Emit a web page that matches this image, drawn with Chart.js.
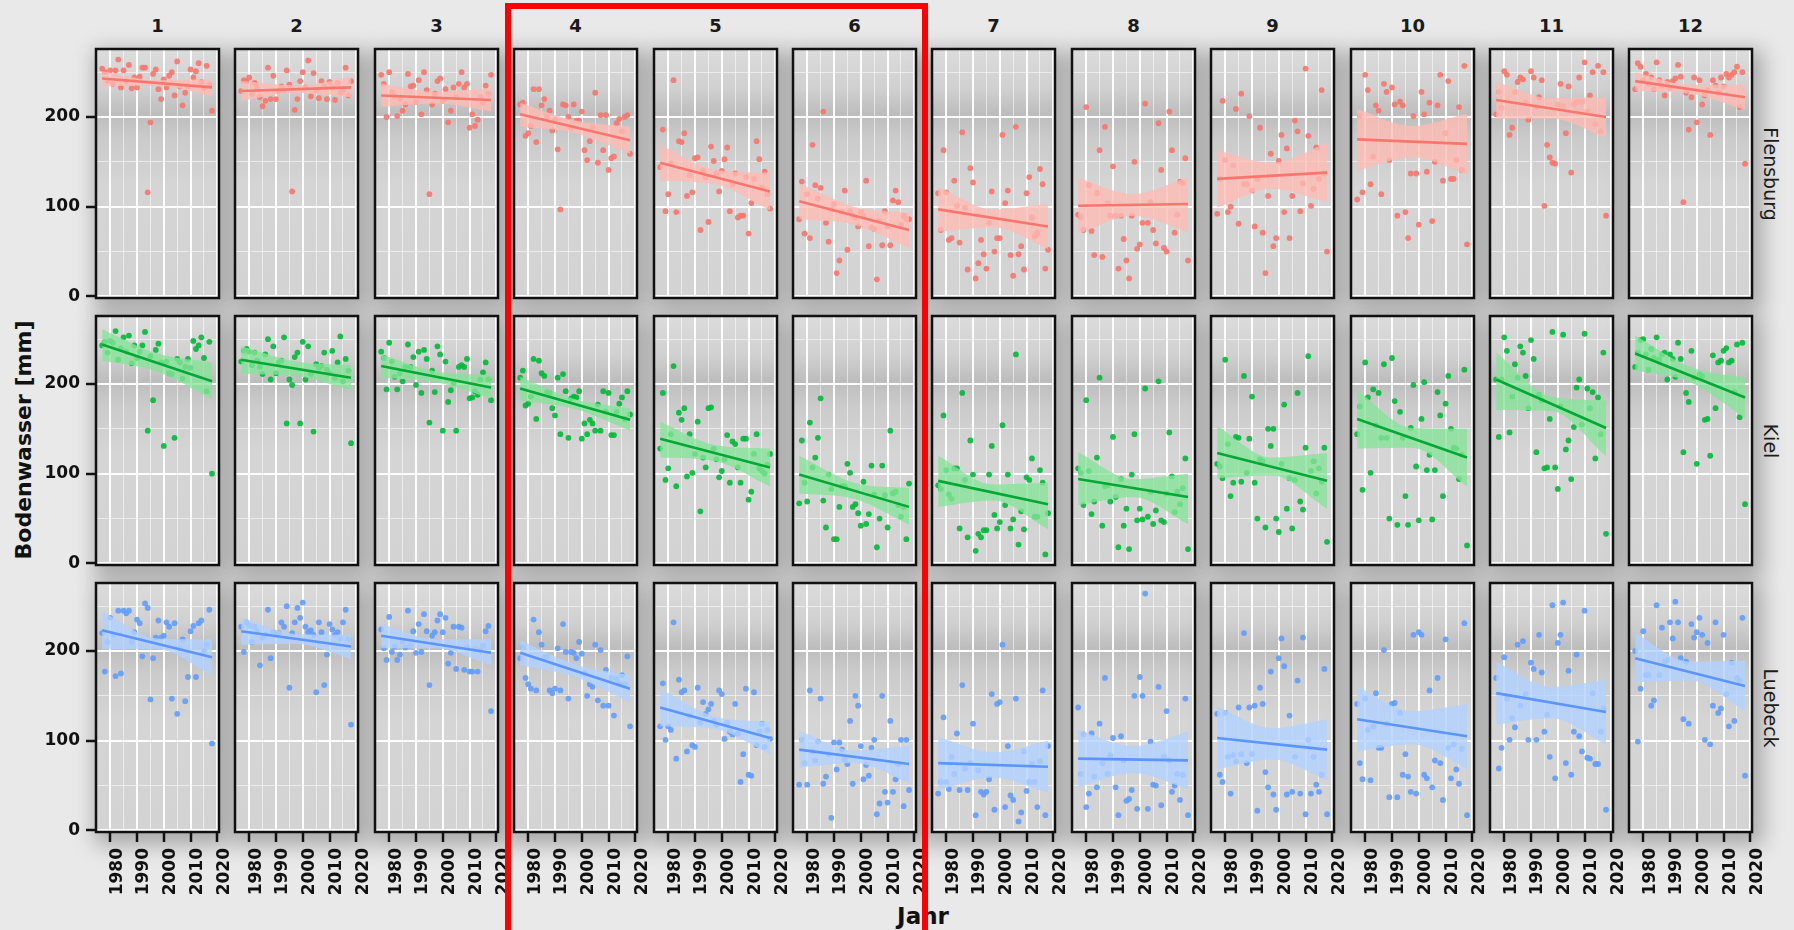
<!DOCTYPE html>
<html>
<head>
<meta charset="utf-8">
<script src="https://cdn.jsdelivr.net/npm/chart.js@4.4.1/dist/chart.umd.min.js"></script>
<style>
  html, body { margin: 0; padding: 0; }
  body {
    width: 1794px; height: 930px; position: relative; overflow: hidden;
    background: #e9e9e9; font-family: "DejaVu Sans", sans-serif;
  }
  .shade { position: absolute; background: #cfcfcf; box-shadow: 5px 7px 20px 6px rgba(0,0,0,0.28); }
  canvas { position: absolute; }
  .strip { position: absolute; width: 123px; text-align: center; font-weight: bold; font-size: 18px; color: #1a1a1a; }
  .rowlab { position: absolute; width: 220px; height: 24px; line-height: 24px; text-align: center;
            font-size: 19px; color: #1e1e1e; transform: rotate(90deg); white-space: nowrap; }
  #ytitle { position: absolute; left: -126px; top: 427px; width: 300px; height: 26px; line-height: 26px;
            text-align: center; font-weight: bold; font-size: 22px; color: #111; transform: rotate(-90deg); }
  #xtitle { position: absolute; left: 873px; top: 903px; width: 100px; text-align: center;
            font-weight: bold; font-size: 23px; color: #111; }
  #box { position: absolute; left: 505px; top: 3px; width: 411px; height: 1000px; border: 6px solid #ff0000; z-index: 10; }
</style>
</head>
<body>
<div id="ytitle">Bodenwasser [mm]</div>
<div id="xtitle">Jahr</div>
<div id="box"></div>
<script>
const years = [1977,1978,1979,1980,1981,1982,1983,1984,1985,1986,1987,1988,1989,1990,1991,1992,1993,1994,1995,1996,1997,
               1998,1999,2000,2001,2002,2003,2004,2005,2006,2007,2008,2009,2010,2011,2012,2013,2014,2015,2016,2017,2018];
const months = ['1','2','3','4','5','6','7','8','9','10','11','12'];
const stations = ['Flensburg', 'Kiel', 'Luebeck'];
const xMajor = [1980, 1990, 2000, 2010, 2020];
const xMinor = [1975, 1985, 1995, 2005, 2015];
const yMajor = [0, 100, 200];
const yMinor = [50, 150, 250];

const flensburg = [
  [254,250,240,252,237,252,264,233,252,240,258,232,244,233,245,255,255,116,194,248,253,231,220,242,233,246,250,224,262,234,213,227,234,253,244,251,260,239,232,257,236,207],
  [229,241,240,244,226,238,233,222,212,218,255,220,246,220,229,234,230,252,236,117,208,220,240,250,233,263,223,249,230,221,240,234,220,239,233,219,238,227,230,255,224,240],
  [247,237,200,250,228,223,201,220,207,214,248,234,235,217,241,203,250,230,114,214,226,240,243,218,231,194,207,233,222,237,250,233,237,188,203,190,197,222,216,235,226,247],
  [214,216,179,182,190,231,172,231,213,220,200,207,185,197,164,97,214,213,200,188,214,196,196,206,163,152,173,189,227,149,202,163,202,141,154,156,193,198,184,200,202,159],
  [144,186,95,114,148,241,94,173,172,182,112,135,116,154,155,74,140,133,83,167,151,137,117,140,153,166,95,125,137,88,90,90,133,70,104,131,173,153,121,139,114,98],
  [86,128,70,114,65,169,124,109,121,206,82,61,97,103,26,40,94,118,52,95,90,88,78,94,90,129,56,77,75,19,84,57,95,78,57,107,118,105,80,90,86,86],
  [115,74,163,116,63,65,129,101,60,183,99,30,143,127,20,37,63,47,31,82,117,50,65,65,180,104,118,46,23,189,47,56,30,115,133,88,67,71,142,125,31,52],
  [91,88,74,211,124,73,46,115,163,44,189,104,90,145,90,31,90,64,40,20,90,150,53,58,82,215,82,105,74,59,193,141,54,50,206,163,71,91,128,126,154,40],
  [92,131,218,152,94,100,146,209,81,226,125,125,201,118,78,131,188,71,26,112,159,56,65,151,180,94,165,65,112,196,184,95,126,254,179,101,120,166,131,230,137,50],
  [108,201,116,247,230,125,156,213,207,114,237,228,152,233,214,90,217,213,94,65,137,201,137,80,228,203,139,216,84,150,213,247,129,182,240,131,131,152,211,141,257,58],
  [203,228,210,251,247,180,188,228,239,244,242,216,197,251,244,211,222,241,101,169,155,149,148,214,237,212,182,234,138,214,217,244,217,261,206,224,250,192,257,184,250,90],
  [231,260,256,241,248,237,244,231,261,241,235,224,239,233,240,243,258,245,105,227,186,222,244,194,241,214,224,230,180,241,235,227,244,234,248,244,247,250,256,211,250,148]
];
const kiel = [
  [243,247,235,248,246,259,227,240,252,236,254,223,243,229,236,243,258,148,231,182,238,245,224,131,225,212,211,140,228,224,206,219,228,218,248,239,243,252,229,192,247,100],
  [225,237,239,236,221,235,226,219,211,233,250,205,242,212,224,226,252,156,205,199,230,235,156,247,205,242,211,147,222,218,220,235,216,212,237,207,224,253,203,228,215,134],
  [236,229,194,246,225,208,194,212,203,219,244,219,230,199,236,190,238,228,157,215,191,242,233,148,225,180,193,201,148,219,221,219,228,184,185,192,188,205,213,224,205,182],
  [207,215,176,178,186,228,161,226,212,209,191,190,173,165,207,144,211,192,140,184,186,185,192,139,156,144,160,156,148,177,148,192,169,190,143,143,169,178,185,161,192,166],
  [128,190,93,106,144,220,86,168,160,173,97,144,101,122,158,58,118,107,173,174,128,116,96,103,116,143,90,136,133,107,90,139,139,71,80,122,144,106,103,100,110,122],
  [67,137,90,69,157,107,118,140,184,70,40,99,83,27,27,63,86,86,111,101,63,66,56,42,91,44,55,109,77,18,50,109,76,40,148,78,80,65,52,63,27,89],
  [87,83,165,104,77,72,106,106,39,190,93,29,137,99,14,33,29,37,37,99,131,54,39,46,154,65,99,39,49,233,21,58,38,96,93,117,52,52,104,90,10,56],
  [106,101,65,182,103,55,69,118,207,42,86,87,69,141,74,18,94,42,61,16,99,144,48,61,49,195,52,80,44,59,203,48,46,78,146,97,57,80,66,84,117,16],
  [111,108,95,227,133,75,90,141,140,91,209,101,139,186,90,50,116,114,40,150,131,150,50,35,111,177,61,95,39,93,190,69,60,129,231,103,114,78,106,91,129,24],
  [144,175,82,224,185,101,194,154,190,140,222,140,50,229,181,43,169,140,75,43,151,199,108,48,161,202,104,121,49,104,191,165,75,178,209,150,129,128,94,121,216,20],
  [205,141,205,252,237,146,186,222,207,242,235,209,173,249,228,124,188,182,106,107,161,258,107,83,175,255,127,137,94,152,196,205,155,256,195,173,191,117,185,144,235,33],
  [219,235,249,250,233,216,239,229,252,227,233,235,205,233,228,208,246,228,124,190,180,237,207,111,211,209,160,161,120,232,173,224,226,237,240,224,226,191,244,163,246,66]
];
const luebeck = [
  [220,177,210,237,218,172,245,175,245,242,245,210,221,235,231,194,253,248,146,192,215,234,215,217,232,227,147,231,130,203,213,144,171,222,228,171,231,234,200,207,246,97],
  [227,199,232,228,210,227,222,184,215,218,246,192,221,218,220,232,227,250,159,220,232,248,237,254,227,221,223,218,154,232,221,162,196,230,224,218,221,214,232,246,213,118],
  [224,203,190,238,199,205,190,196,210,204,245,206,222,198,230,199,241,222,162,217,221,234,241,221,237,186,198,227,180,227,226,179,204,177,177,202,177,201,206,222,228,133],
  [192,204,170,163,158,235,156,221,207,193,194,156,153,158,203,156,230,199,147,199,198,192,210,197,175,150,163,160,207,145,201,139,179,139,170,128,169,164,173,163,194,116],
  [116,164,101,116,112,232,80,168,154,156,88,128,95,93,159,120,143,130,135,141,122,118,156,152,102,120,110,107,141,108,54,85,158,62,61,154,95,110,119,93,112,102],
  [51,101,75,51,156,88,78,99,147,52,60,85,14,98,68,98,90,79,74,122,52,150,139,94,57,73,61,92,101,18,30,150,43,31,122,43,57,74,101,27,101,45],
  [41,54,126,54,46,82,63,108,45,162,69,45,75,119,17,67,43,40,43,57,152,23,141,143,207,26,94,39,34,147,10,20,88,44,54,74,54,26,77,156,17,94],
  [137,63,107,26,41,108,60,48,119,75,170,63,84,103,48,17,105,78,33,35,45,150,24,171,150,264,24,99,51,50,160,28,82,133,78,43,50,63,34,62,147,17],
  [130,62,54,131,82,41,84,77,137,85,220,75,137,85,139,22,159,141,65,48,177,40,23,192,214,183,40,128,43,82,167,41,215,18,101,41,82,51,43,62,180,18],
  [141,75,57,147,112,56,116,153,92,92,201,119,37,141,142,37,131,62,85,60,43,218,41,221,218,62,58,156,48,78,170,75,34,213,92,58,96,68,52,91,231,17],
  [170,69,92,193,147,101,125,115,207,139,211,152,101,187,180,101,218,176,110,129,82,251,58,209,218,254,75,178,62,110,196,105,88,245,81,80,153,74,74,110,136,23],
  [200,99,158,222,173,173,139,145,251,173,226,188,190,232,214,255,232,192,124,188,119,230,215,221,237,218,101,209,96,139,232,131,136,218,152,116,187,122,170,167,237,61]
];

// trend line at first / last year, confidence band at first, middle, last year
const fitFlensburg = [[243,233],[229,233],[224,219],[203,174],[149,117],[106,74],[97,78],[101,103],[131,138],[175,170],[219,200],[240,222]];
const bandHiFlensburg = [[251,241,242],[240,235,244],[237,228,232],[216,196,189],[169,141,138],[126,100,93],[122,97,103],[132,114,133],[163,149,171],[209,190,204],[239,221,222],[250,236,236]];
const bandLoFlensburg = [[234,235,223],[218,227,222],[211,215,206],[189,182,159],[129,125,96],[86,80,54],[72,77,53],[70,90,72],[99,120,105],[140,155,136],[198,198,177],[229,226,208]];

const fitKiel = [[244,203],[227,207],[220,196],[195,160],[139,107],[99,63],[92,66],[94,74],[123,92],[161,118],[205,151],[234,185]];
const bandHiKiel = [[261,234,224],[242,225,221],[233,214,210],[208,183,173],[158,132,128],[120,90,84],[120,88,90],[124,94,100],[153,118,123],[193,151,150],[235,186,182],[254,219,207]];
const bandLoKiel = [[226,214,183],[211,209,193],[207,202,184],[182,172,148],[118,114,86],[78,72,43],[63,70,38],[65,74,44],[95,98,61],[128,129,86],[171,170,120],[215,202,162]];

const fitLuebeck = [[223,193],[222,205],[217,198],[198,158],[137,103],[90,74],[75,71],[80,78],[103,90],[124,105],[153,132],[192,161]];
const bandHiLuebeck = [[244,214,213],[237,219,218],[230,213,213],[212,185,173],[158,127,121],[111,89,94],[104,87,100],[112,94,110],[138,114,124],[160,133,141],[188,160,168],[220,188,189]];
const bandLoLuebeck = [[202,202,173],[207,208,191],[203,203,184],[184,171,143],[116,113,85],[70,75,53],[45,59,42],[48,64,46],[68,79,56],[88,96,69],[118,125,96],[165,167,133]];

const rows = [
  { values: flensburg, fit: fitFlensburg, hi: bandHiFlensburg, lo: bandLoFlensburg,
    point: 'rgba(248,118,109,0.9)', line: '#f8766d', band: 'rgba(255,186,180,0.78)' },
  { values: kiel, fit: fitKiel, hi: bandHiKiel, lo: bandLoKiel,
    point: 'rgba(0,186,56,0.9)', line: '#00a834', band: 'rgba(134,228,153,0.78)' },
  { values: luebeck, fit: fitLuebeck, hi: bandHiLuebeck, lo: bandLoLuebeck,
    point: 'rgba(97,156,255,0.9)', line: '#5b95ff', band: 'rgba(178,209,255,0.8)' }
];

// panel geometry
const X0 = 96, DX = 139.4, Y0 = 49, DY = 267, PW = 123, PH = 249;
const YW = 96, XH = 72, M = 3, RM = 18;

const panelBg = {
  id: 'panelBg',
  beforeDraw(chart) {
    const { ctx, chartArea: a } = chart;
    const g = ctx.createLinearGradient(0, a.top, 0, a.bottom);
    g.addColorStop(0, '#dcdcdc');
    g.addColorStop(0.16, '#d0d0d0');
    g.addColorStop(0.26, '#bdbdbd');
    g.addColorStop(0.36, '#cbcbcb');
    g.addColorStop(0.55, '#d5d5d5');
    g.addColorStop(1, '#d3d3d3');
    ctx.save();
    ctx.fillStyle = g;
    ctx.fillRect(a.left, a.top, a.right - a.left, a.bottom - a.top);
    ctx.restore();
  },
  afterDraw(chart) {
    const { ctx, chartArea: a } = chart;
    ctx.save();
    ctx.strokeStyle = '#111';
    ctx.lineWidth = 2.5;
    ctx.strokeRect(a.left, a.top, a.right - a.left, a.bottom - a.top);
    ctx.restore();
  }
};

const noPad = s => { s.paddingLeft = 0; s.paddingRight = 0; s.paddingTop = 0; s.paddingBottom = 0; };

const tickFont = { family: 'DejaVu Sans', size: 17, weight: 'bold' };
const gridColor = (major) => (ctx) => major.includes(ctx.tick && ctx.tick.value) ? 'rgba(255,255,255,0.95)' : 'rgba(255,255,255,0.55)';
const gridWidth = (major) => (ctx) => major.includes(ctx.tick && ctx.tick.value) ? 2 : 1;
const tickColor = (major) => (ctx) => major.includes(ctx.tick && ctx.tick.value) ? '#111' : 'rgba(0,0,0,0)';

months.forEach((m, c) => {
  const s = document.createElement('div');
  s.className = 'strip';
  s.style.left = Math.round(X0 + DX * c) + 'px';
  s.style.top = '15px';
  s.textContent = m;
  document.body.appendChild(s);
});

stations.forEach((name, r) => {
  const l = document.createElement('div');
  l.className = 'rowlab';
  l.style.left = (1771 - 110) + 'px';
  l.style.top = Math.round(Y0 + DY * r + PH / 2 - 12) + 'px';
  l.textContent = name;
  document.body.appendChild(l);
});

rows.forEach((row, r) => {
  row.values.forEach((vals, c) => {
    const left = Math.round(X0 + DX * c);
    const top = Math.round(Y0 + DY * r);

    const sh = document.createElement('div');
    sh.className = 'shade';
    Object.assign(sh.style, { left: left + 'px', top: top + 'px', width: PW + 'px', height: PH + 'px' });
    document.body.appendChild(sh);

    const yw = c === 0 ? YW : 0;
    const xh = r === 2 ? XH : 0;
    const rm = r === 2 ? RM : M;
    const cv = document.createElement('canvas');
    cv.width = PW + yw + M + rm;
    cv.height = PH + xh + 2 * M;
    cv.style.left = (left - yw - M) + 'px';
    cv.style.top = (top - M) + 'px';
    document.body.appendChild(cv);

    const first = years[0], last = years[vals.length - 1];
    const mid = (first + last) / 2;
    const pts = vals.map((v, i) => ({ x: years[i], y: v }));
    const fit = row.fit[c], hi = row.hi[c], lo = row.lo[c];

    new Chart(cv, {
      type: 'scatter',
      data: {
        datasets: [
          { type: 'line', data: [{ x: first, y: fit[0] }, { x: last, y: fit[1] }],
            borderColor: row.line, borderWidth: 2.6, pointRadius: 0, order: 0 },
          { type: 'line', data: [{ x: first, y: hi[0] }, { x: mid, y: hi[1] }, { x: last, y: hi[2] }],
            borderColor: 'rgba(0,0,0,0)', borderWidth: 0, pointRadius: 0, cubicInterpolationMode: 'monotone', fill: false, order: 1 },
          { type: 'line', data: [{ x: first, y: lo[0] }, { x: mid, y: lo[1] }, { x: last, y: lo[2] }],
            borderColor: 'rgba(0,0,0,0)', borderWidth: 0, pointRadius: 0, cubicInterpolationMode: 'monotone', fill: '-1',
            backgroundColor: row.band, order: 1 },
          { type: 'scatter', data: pts, backgroundColor: row.point, borderWidth: 0, pointRadius: 2.9, order: 2 }
        ]
      },
      options: {
        responsive: false, animation: false, devicePixelRatio: 1,
        layout: { padding: { left: M, top: M, bottom: M, right: rm }, autoPadding: false },
        plugins: { legend: { display: false }, tooltip: { enabled: false } },
        scales: {
          x: {
            type: 'linear', min: 1974.7, max: 2020.6,
            afterBuildTicks: s => { s.ticks = [...xMinor, ...xMajor].sort((a, b) => a - b).map(v => ({ value: v })); },
            afterFit: s => { s.height = xh; noPad(s); },
            ticks: { display: r === 2, autoSkip: false, minRotation: 90, maxRotation: 90, padding: 6, labelOffset: 7,
                     font: tickFont, color: '#111', callback: v => xMajor.includes(v) ? String(v) : '' },
            grid: { color: gridColor(xMajor), lineWidth: gridWidth(xMajor), drawTicks: r === 2, tickLength: 10,
                    tickColor: tickColor(xMajor), tickWidth: 2.5 },
            border: { display: false }
          },
          y: {
            min: -1.8, max: 275.8,
            afterBuildTicks: s => { s.ticks = [...yMajor, ...yMinor].sort((a, b) => a - b).map(v => ({ value: v })); },
            afterFit: s => { s.width = yw; noPad(s); },
            ticks: { display: c === 0, padding: 6, font: tickFont, color: '#111',
                     callback: v => yMajor.includes(v) ? String(v) : '' },
            grid: { color: gridColor(yMajor), lineWidth: gridWidth(yMajor), drawTicks: c === 0, tickLength: 10,
                    tickColor: tickColor(yMajor), tickWidth: 2.5 },
            border: { display: false }
          }
        }
      },
      plugins: [panelBg]
    });
  });
});
</script>
</body>
</html>
